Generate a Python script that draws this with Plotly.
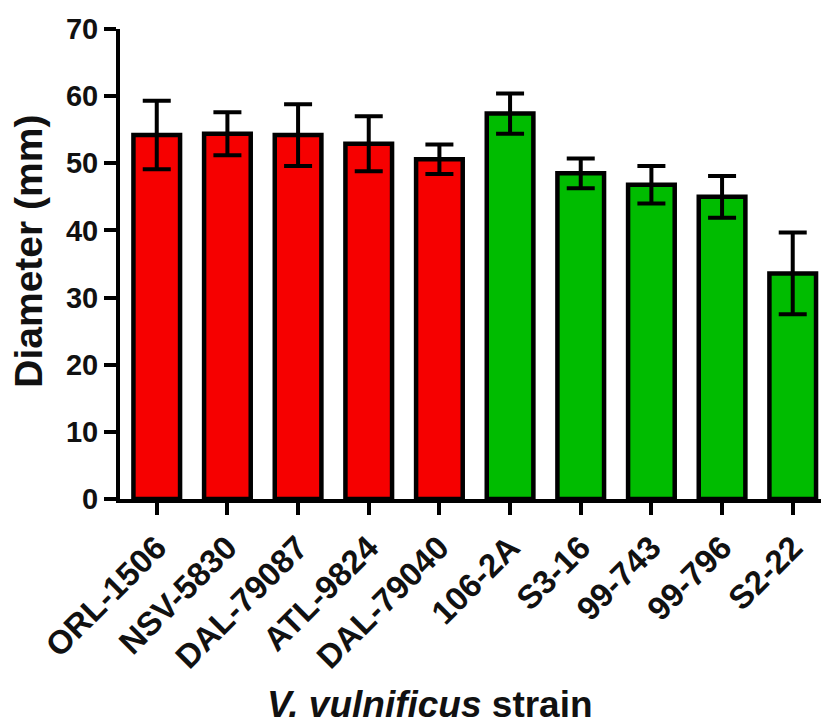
import plotly.graph_objects as go

# Mean zone diameter (mm) with SD per V. vulnificus strain
strains = ["ORL-1506", "NSV-5830", "DAL-79087", "ATL-9824", "DAL-79040",
           "106-2A", "S3-16", "99-743", "99-796", "S2-22"]
diameter_mm = [54.2, 54.4, 54.2, 52.9, 50.6, 57.4, 48.5, 46.8, 45.0, 33.6]
sd_mm = [5.1, 3.2, 4.6, 4.1, 2.2, 3.0, 2.2, 2.8, 3.1, 6.1]
strain_group = ["red"] * 5 + ["green"] * 5

palette = {"red": "rgb(246,0,0)", "green": "rgb(0,188,0)"}
font_family = "Liberation Sans, Arial, sans-serif"

fig = go.Figure(
    go.Bar(
        x=strains,
        y=diameter_mm,
        width=0.66,
        marker=dict(
            color=[palette[g] for g in strain_group],
            line=dict(color="black", width=4.5),
        ),
        error_y=dict(type="data", array=sd_mm, visible=True,
                     color="black", thickness=4, width=14),
    )
)

axis_common = dict(
    showline=True, linecolor="black", linewidth=4,
    ticks="outside", tickcolor="black", tickwidth=4, ticklen=12,
    showgrid=False, zeroline=False,
)

fig.update_xaxes(
    **axis_common,
    range=[-0.52, 9.4],
    tickangle=-45,
    tickfont=dict(family=font_family, size=33, color="#111", weight="bold"),
)
fig.update_yaxes(
    **axis_common,
    range=[0, 70],
    tickvals=[0, 10, 20, 30, 40, 50, 60, 70],
    tickfont=dict(family=font_family, size=29, color="#111", weight="bold"),
)

fig.update_layout(
    width=821, height=728,
    margin=dict(l=120, r=0, t=29, b=229),
    plot_bgcolor="white", paper_bgcolor="white",
    showlegend=False,
    font=dict(family=font_family, color="#111"),
    annotations=[
        dict(text="<b>Diameter (mm)</b>", textangle=-90,
             xref="paper", yref="paper", x=-0.13, y=0.528,
             xanchor="center", yanchor="middle", showarrow=False,
             font=dict(family=font_family, size=39, color="#111")),
        dict(text="<b><i>V. vulnificus</i> strain</b>",
             xref="paper", yref="paper", x=0.442, y=-0.438,
             xanchor="center", yanchor="middle", showarrow=False,
             font=dict(family=font_family, size=37, color="#111")),
    ],
)

fig.write_html("out.html")
